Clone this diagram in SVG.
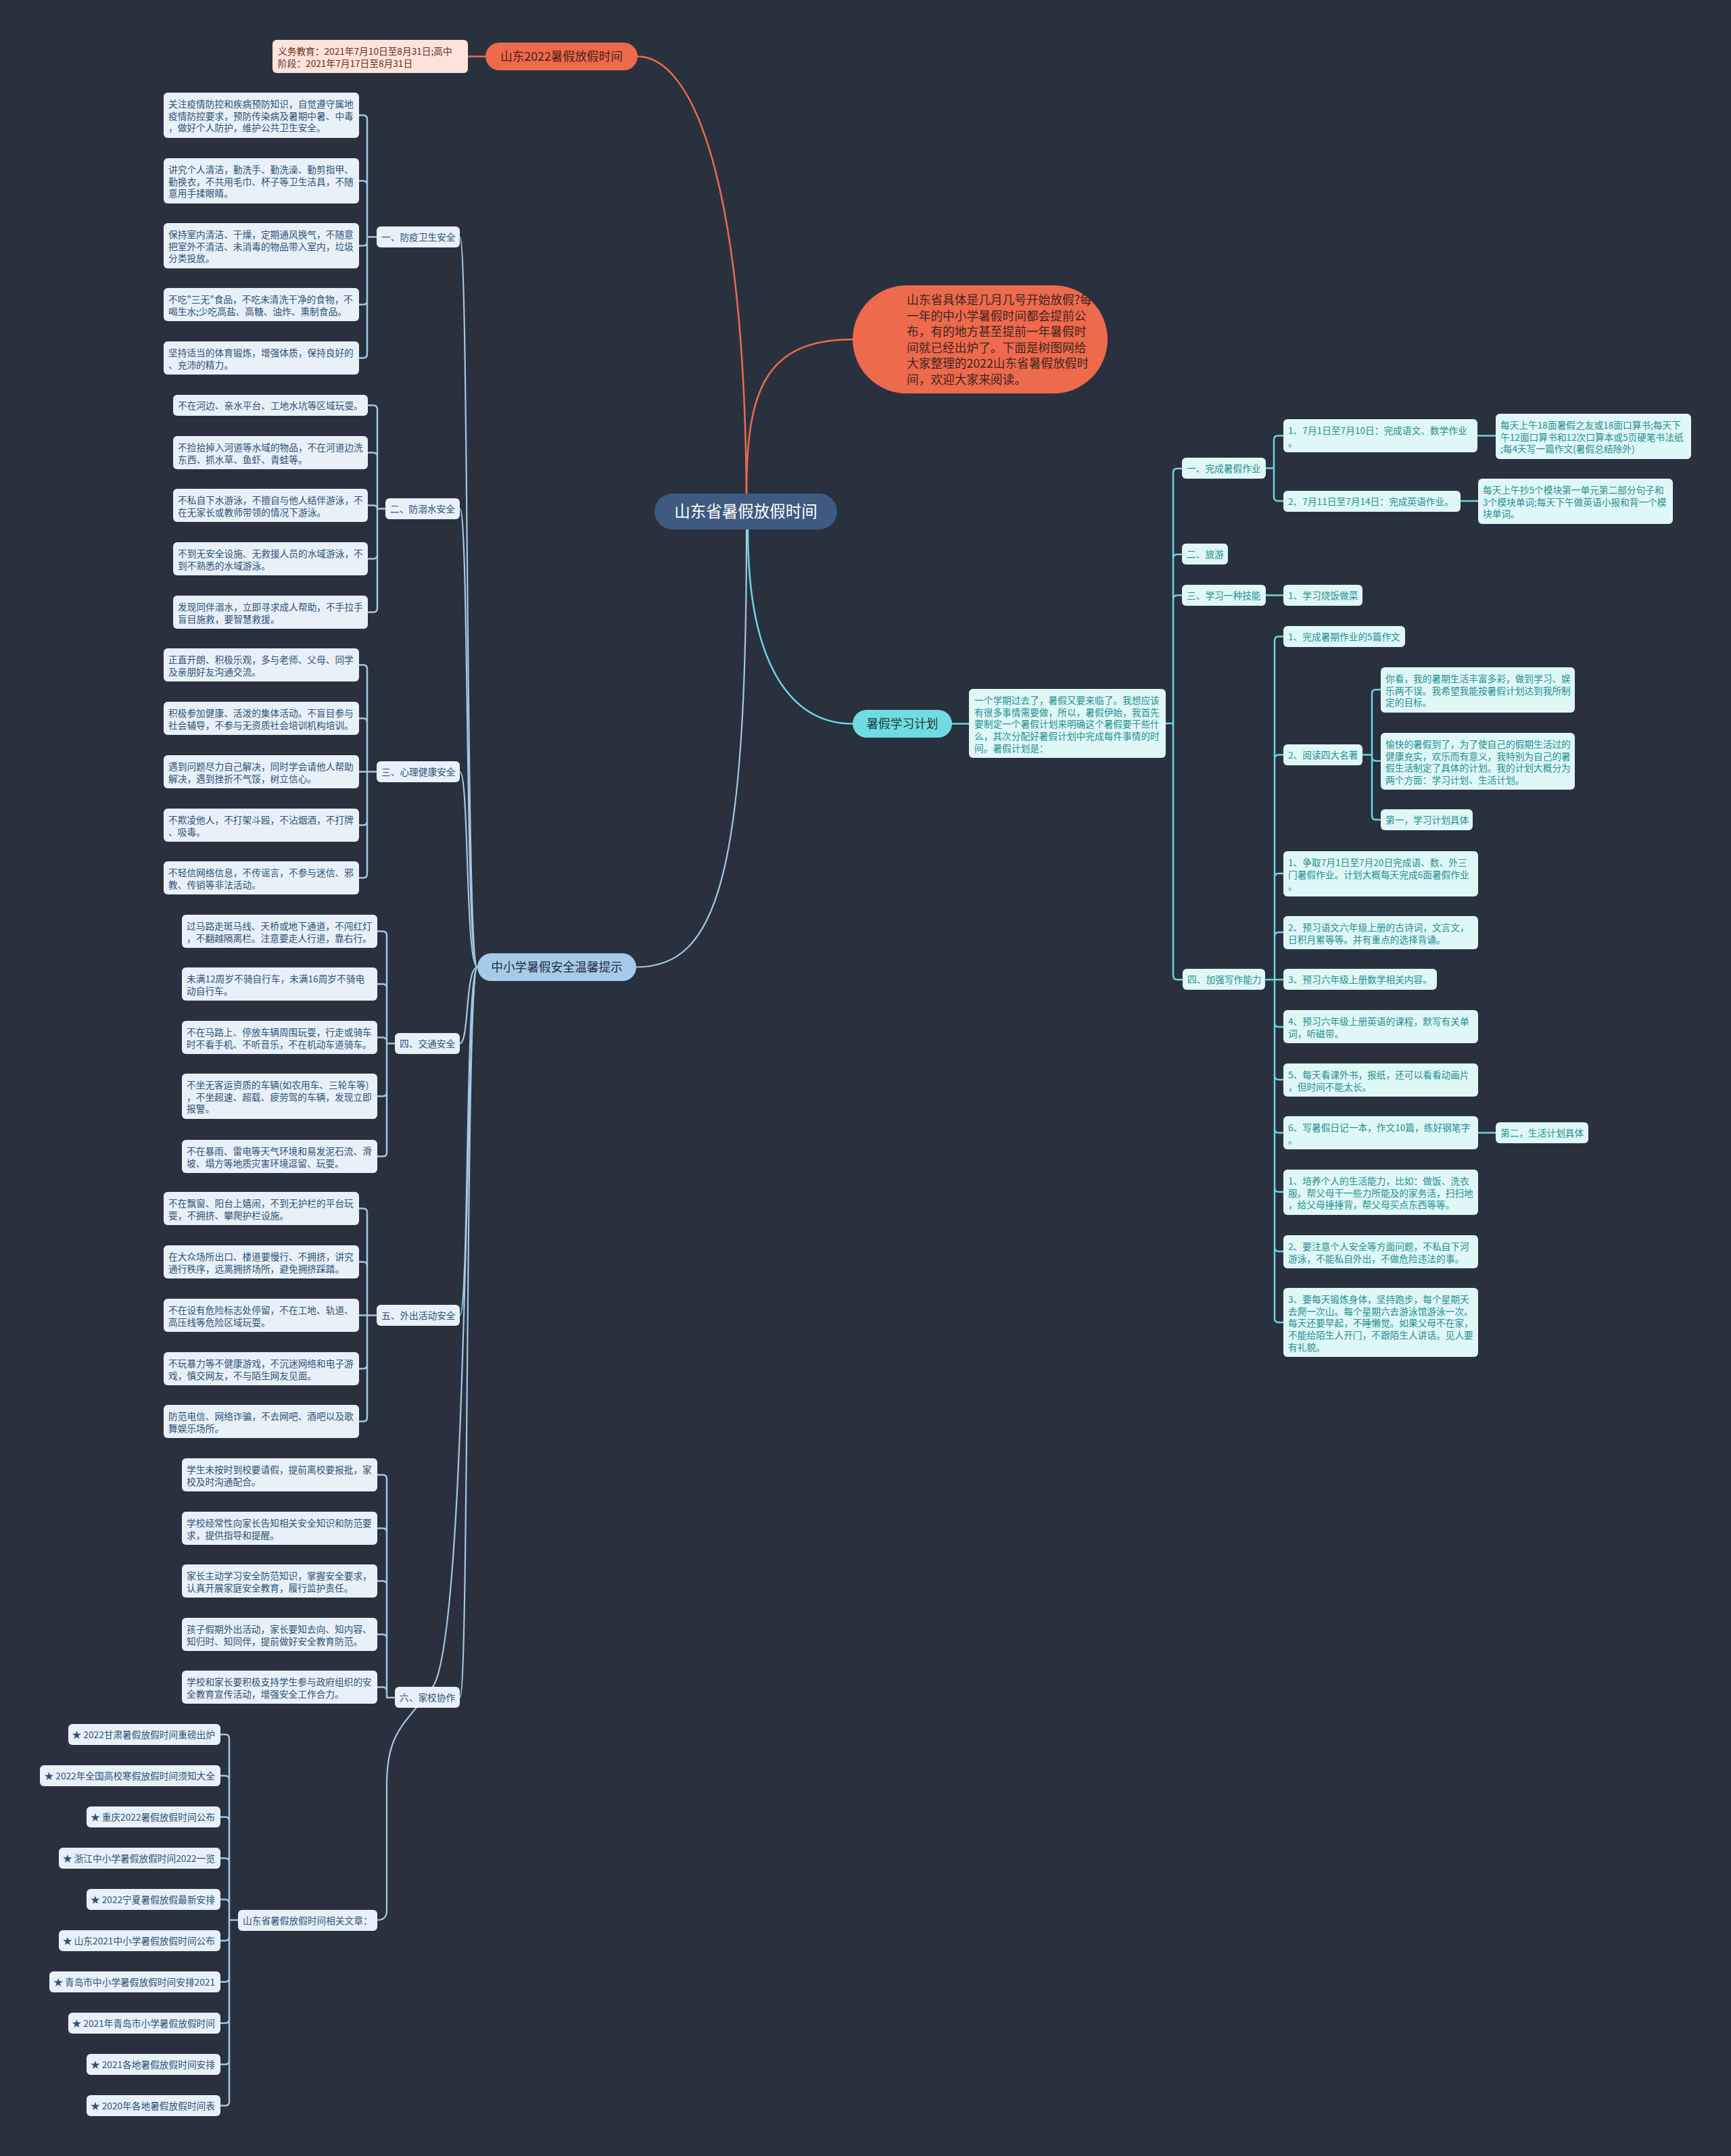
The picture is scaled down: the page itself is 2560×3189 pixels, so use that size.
<svg xmlns="http://www.w3.org/2000/svg" width="2560" height="3189" viewBox="0 0 2560 3189">
<defs>
<style>
text{font-family:"Noto Sans CJK SC","Noto Sans",sans-serif;}
.t{font-size:13.7px;}
.lb{fill:#e8f1f8;}
.lt{fill:#2e5277;}
.rb{fill:#e0f7f8;}
.rt{fill:#23908f;}
.cl{fill:none;stroke:#a4c7e5;stroke-width:2.5;stroke-linecap:round;}
.ct{fill:none;stroke:#a4c7e5;stroke-width:2.2;}
.cr{fill:none;stroke:#6dd6de;stroke-width:2.5;stroke-linecap:round;}
.co{fill:none;stroke:#ee6a4c;stroke-width:2.5;}
.l1{font-size:17.7px;}
</style>
</defs>
<rect x="0" y="0" width="2560" height="3189" fill="#29313e"/>

<g id="connectors">
<!-- root connectors -->
<path class="co" d="M1104,730 C1100,250 1020,83.5 943,83.5"/>
<path class="co" d="M692,83.5 H718"/>
<path class="co" d="M1104,730 C1104,580 1130,502 1261,502"/>
<path class="cr" d="M1106,783 C1106,1000 1180,1070.5 1261,1070.5"/>
<path class="cr" d="M1408,1070.5 H1433"/>
<path class="ct" d="M1104,783 C1104,1300 1060,1430.5 941,1430.5"/>
<!-- trunk to left level-2 -->
<path class="ct" d="M706,1430.5 C688,1430.5 694,350.5 680,350.5"/>
<path class="ct" d="M706,1430.5 C688,1430.5 694,752.5 680,752.5"/>
<path class="ct" d="M706,1430.5 C688,1430.5 694,1141.5 680,1141.5"/>
<path class="ct" d="M706,1430.5 C688,1430.5 694,1543.5 680,1543.5"/>
<path class="ct" d="M706,1430.5 C688,1430.5 694,1945.5 680,1945.5"/>
<path class="ct" d="M706,1430.5 C688,1430.5 694,2511 680,2511"/>
<path class="ct" d="M706,1430.5 C688,1430.5 694,2420 640,2495 C600,2550 572,2560 572,2640 V2826 Q572,2840 558,2840"/>
<!-- 防疫 -->
<path class="cl" d="M557,350.5 H543 M543,350.5 V176.5 Q543,170.5 537,170.5 H531 M543,350.5 V273.5 Q543,267.5 537,267.5 H531 M543,350.5 V357.5 Q543,363.5 537,363.5 H531 M543,350.5 V444.5 Q543,450.5 537,450.5 H531 M543,350.5 V523.5 Q543,529.5 537,529.5 H531"/>
<!-- 防溺水 -->
<path class="cl" d="M570,752.5 H558 M558,752.5 V605.5 Q558,599.5 552,599.5 H544 M558,752.5 V675.5 Q558,669.5 552,669.5 H544 M558,752.5 Q558,747.5 552,747.5 H544 M558,752.5 V820.5 Q558,826.5 552,826.5 H544 M558,752.5 V899.5 Q558,905.5 552,905.5 H544"/>
<!-- 心理 -->
<path class="cl" d="M557,1141.5 H531 M543,1141.5 V989.5 Q543,983.5 537,983.5 H531 M543,1141.5 V1068.5 Q543,1062.5 537,1062.5 H531 M543,1141.5 V1214.5 Q543,1220.5 537,1220.5 H531 M543,1141.5 V1292.5 Q543,1298.5 537,1298.5 H531"/>
<!-- 交通 -->
<path class="cl" d="M584,1543.5 H572 M572,1543.5 V1383.5 Q572,1377.5 566,1377.5 H558 M572,1543.5 V1461.5 Q572,1455.5 566,1455.5 H558 M572,1543.5 V1540.5 Q572,1534.5 566,1534.5 H558 M572,1543.5 V1615.5 Q572,1621.5 566,1621.5 H558 M572,1543.5 V1704.5 Q572,1710.5 566,1710.5 H558"/>
<!-- 外出 -->
<path class="cl" d="M557,1945.5 H531 M543,1945.5 V1793.5 Q543,1787.5 537,1787.5 H531 M543,1945.5 V1872.5 Q543,1866.5 537,1866.5 H531 M543,1945.5 V2018.5 Q543,2024.5 537,2024.5 H531 M543,1945.5 V2096.5 Q543,2102.5 537,2102.5 H531"/>
<!-- 家校 -->
<path class="cl" d="M584,2511 H572 M572,2511 V2187.5 Q572,2181.5 566,2181.5 H558 M572,2511 V2266.5 Q572,2260.5 566,2260.5 H558 M572,2511 V2344.5 Q572,2338.5 566,2338.5 H558 M572,2511 V2423.5 Q572,2417.5 566,2417.5 H558 M572,2511 V2501.5 Q572,2495.5 566,2495.5 H558"/>
<!-- 相关文章 -->
<path class="cl" d="M352,2840 H339 M339,2840 V2571.5 Q339,2565.5 333,2565.5 H326 M339,2840 V2632.5 Q339,2626.5 333,2626.5 H326 M339,2840 V2693.5 Q339,2687.5 333,2687.5 H326 M339,2840 V2754.5 Q339,2748.5 333,2748.5 H326 M339,2840 V2815.5 Q339,2809.5 333,2809.5 H326 M339,2840 V2864.5 Q339,2870.5 333,2870.5 H326 M339,2840 V2925.5 Q339,2931.5 333,2931.5 H326 M339,2840 V2986.5 Q339,2992.5 333,2992.5 H326 M339,2840 V3047.5 Q339,3053.5 333,3053.5 H326 M339,2840 V3108.5 Q339,3114.5 333,3114.5 H326"/>
<!-- right side -->
<path class="cr" d="M1724,1070 H1735 M1735,1070 V699 Q1735,693 1741,693 H1748 M1735,1070 V826 Q1735,820 1741,820 H1748 M1735,1070 V886.5 Q1735,880.5 1741,880.5 H1748 M1735,1070 V1443 Q1735,1449 1741,1449 H1749"/>
<path class="cr" d="M1872,692.5 H1884 M1884,692.5 V650.5 Q1884,644.5 1890,644.5 H1898 M1884,692.5 V735 Q1884,741 1890,741 H1898 M2185,644.5 H2212 M2160,741 H2186 M1872,880.5 H1898"/>
<path class="cr" d="M1871,1449 H1898 M1885,1449 V947.5 Q1885,941.5 1891,941.5 H1898 M1885,1449 V1122.5 Q1885,1116.5 1891,1116.5 H1898 M1885,1449 V1298 Q1885,1292 1891,1292 H1898 M1885,1449 V1385 Q1885,1379 1891,1379 H1898 M1885,1449 V1513 Q1885,1519 1891,1519 H1898 M1885,1449 V1591 Q1885,1597 1891,1597 H1898 M1885,1449 V1669.5 Q1885,1675.5 1891,1675.5 H1898 M1885,1449 V1757 Q1885,1763 1891,1763 H1898 M1885,1449 V1845 Q1885,1851 1891,1851 H1898 M1885,1449 V1950 Q1885,1956 1891,1956 H1898"/>
<path class="cr" d="M2015,1116.5 H2029 M2029,1116.5 V1026 Q2029,1020 2035,1020 H2042 M2029,1116.5 V1119.5 Q2029,1125.5 2035,1125.5 H2042 M2029,1116.5 V1206.5 Q2029,1212.5 2035,1212.5 H2042 M2186,1675.5 H2212"/>
</g>

<!-- root -->
<g id="root">
<rect x="968" y="730" width="270" height="53" rx="26.5" fill="#3e5a80"/>
<text x="1103" y="765" font-size="23.5" fill="#ffffff" text-anchor="middle">山东省暑假放假时间</text>
</g>

<!-- orange branch -->
<g id="n-sd2022">
<rect x="718" y="63" width="225" height="41" rx="20.5" fill="#ee6a4c"/>
<text class="l1" x="830.5" y="90" fill="#4a2016" text-anchor="middle">山东2022暑假放假时间</text>
</g>
<g id="n-sd2022-detail">
<rect x="403" y="59" width="289" height="49" rx="6" fill="#fde3dc"/>
<text class="t" x="411" y="81" fill="#6b2c20">义务教育：2021年7月10日至8月31日;高中<tspan x="411" dy="17.7">阶段：2021年7月17日至8月31日</tspan></text>
</g>
<g id="n-intro">
<rect x="1261" y="422" width="377" height="160" rx="80" fill="#ee6a4c"/>
<text class="l1" x="1341" y="450" fill="#3d2520">山东省具体是几月几号开始放假?每<tspan x="1341" dy="23.6">一年的中小学暑假时间都会提前公</tspan><tspan x="1341" dy="23.6">布，有的地方甚至提前一年暑假时</tspan><tspan x="1341" dy="23.6">间就已经出炉了。下面是树图网给</tspan><tspan x="1341" dy="23.6">大家整理的2022山东省暑假放假时</tspan><tspan x="1341" dy="23.6">间，欢迎大家来阅读。</tspan></text>
</g>

<!-- study plan branch -->
<g id="n-plan">
<rect x="1261" y="1050" width="147" height="41" rx="20.5" fill="#70dce1"/>
<text class="l1" x="1334.5" y="1077" fill="#1d3a3e" text-anchor="middle">暑假学习计划</text>
</g>
<g id="n-plan-desc">
<rect x="1433" y="1019" width="291" height="102" rx="6" class="rb"/>
<text class="t rt" x="1441" y="1041">一个学期过去了，暑假又要来临了。我想应该<tspan x="1441" dy="17.7">有很多事情需要做，所以，暑假伊始，我首先</tspan><tspan x="1441" dy="17.7">要制定一个暑假计划来明确这个暑假要干些什</tspan><tspan x="1441" dy="17.7">么，其次分配好暑假计划中完成每件事情的时</tspan><tspan x="1441" dy="17.7">间。暑假计划是：</tspan></text>
</g>
<g id="r1">
<rect x="1748" y="677" width="124" height="31" rx="6" class="rb"/>
<text class="t rt" x="1755" y="698">一、完成暑假作业</text>
</g>
<g id="r1-1">
<rect x="1898" y="620" width="287" height="49" rx="6" class="rb"/>
<text class="t rt" x="1905" y="642">1、7月1日至7月10日：完成语文、数学作业<tspan x="1905" dy="17.7">。</tspan></text>
</g>
<g id="r1-1-a">
<rect x="2212" y="612" width="289" height="67" rx="6" class="rb"/>
<text class="t rt" x="2219" y="634">每天上午18面暑假之友或18面口算书;每天下<tspan x="2219" dy="17.7">午12面口算书和12次口算本或5页硬笔书法纸</tspan><tspan x="2219" dy="17.7">;每4天写一篇作文(暑假总结除外)</tspan></text>
</g>
<g id="r1-2">
<rect x="1898" y="726" width="262" height="31" rx="6" class="rb"/>
<text class="t rt" x="1905" y="747">2、7月11日至7月14日：完成英语作业。</text>
</g>
<g id="r1-2-a">
<rect x="2186" y="708" width="288" height="67" rx="6" class="rb"/>
<text class="t rt" x="2193" y="730">每天上午抄5个模块第一单元第二部分句子和<tspan x="2193" dy="17.7">3个模块单词;每天下午做英语小报和背一个模</tspan><tspan x="2193" dy="17.7">块单词。</tspan></text>
</g>
<g id="r2">
<rect x="1748" y="804" width="68" height="31" rx="6" class="rb"/>
<text class="t rt" x="1755" y="825">二、旅游</text>
</g>
<g id="r3">
<rect x="1748" y="865" width="124" height="31" rx="6" class="rb"/>
<text class="t rt" x="1755" y="886">三、学习一种技能</text>
</g>
<g id="r3-1">
<rect x="1898" y="865" width="117" height="31" rx="6" class="rb"/>
<text class="t rt" x="1905" y="886">1、学习烧饭做菜</text>
</g>
<g id="r4">
<rect x="1749" y="1433" width="122" height="31" rx="6" class="rb"/>
<text class="t rt" x="1756" y="1454">四、加强写作能力</text>
</g>
<g id="r4-1">
<rect x="1898" y="926" width="180" height="31" rx="6" class="rb"/>
<text class="t rt" x="1905" y="947">1、完成暑期作业的5篇作文</text>
</g>
<g id="r4-2">
<rect x="1898" y="1101" width="117" height="31" rx="6" class="rb"/>
<text class="t rt" x="1905" y="1122">2、阅读四大名著</text>
</g>
<g id="r4-2-a">
<rect x="2042" y="987" width="287" height="67" rx="6" class="rb"/>
<text class="t rt" x="2049" y="1009">你看，我的暑期生活丰富多彩，做到学习、娱<tspan x="2049" dy="17.7">乐两不误。我希望我能按暑假计划达到我所制</tspan><tspan x="2049" dy="17.7">定的目标。</tspan></text>
</g>
<g id="r4-2-b">
<rect x="2042" y="1084" width="287" height="84" rx="6" class="rb"/>
<text class="t rt" x="2049" y="1106">愉快的暑假到了，为了使自己的假期生活过的<tspan x="2049" dy="17.7">健康充实，欢乐而有意义，我特别为自己的暑</tspan><tspan x="2049" dy="17.7">假生活制定了具体的计划。我的计划大概分为</tspan><tspan x="2049" dy="17.7">两个方面：学习计划、生活计划。</tspan></text>
</g>
<g id="r4-2-c">
<rect x="2042" y="1197" width="136" height="31" rx="6" class="rb"/>
<text class="t rt" x="2049" y="1218">第一，学习计划具体</text>
</g>
<g id="r4-3">
<rect x="1898" y="1259" width="288" height="67" rx="6" class="rb"/>
<text class="t rt" x="1905" y="1281">1、争取7月1日至7月20日完成语、数、外三<tspan x="1905" dy="17.7">门暑假作业。计划大概每天完成6面暑假作业</tspan><tspan x="1905" dy="17.7">。</tspan></text>
</g>
<g id="r4-4">
<rect x="1898" y="1355" width="288" height="49" rx="6" class="rb"/>
<text class="t rt" x="1905" y="1377">2、预习语文六年级上册的古诗词，文言文，<tspan x="1905" dy="17.7">日积月累等等。并有重点的选择背诵。</tspan></text>
</g>
<g id="r4-5">
<rect x="1898" y="1433" width="227" height="31" rx="6" class="rb"/>
<text class="t rt" x="1905" y="1454">3、预习六年级上册数学相关内容。</text>
</g>
<g id="r4-6">
<rect x="1898" y="1494" width="288" height="49" rx="6" class="rb"/>
<text class="t rt" x="1905" y="1516">4、预习六年级上册英语的课程，默写有关单<tspan x="1905" dy="17.7">词，听磁带。</tspan></text>
</g>
<g id="r4-7">
<rect x="1898" y="1573" width="288" height="49" rx="6" class="rb"/>
<text class="t rt" x="1905" y="1595">5、每天看课外书，报纸，还可以看看动画片<tspan x="1905" dy="17.7">，但时间不能太长。</tspan></text>
</g>
<g id="r4-8">
<rect x="1898" y="1651" width="288" height="49" rx="6" class="rb"/>
<text class="t rt" x="1905" y="1673">6、写暑假日记一本，作文10篇，练好钢笔字<tspan x="1905" dy="17.7">。</tspan></text>
</g>
<g id="r4-8-a">
<rect x="2212" y="1660" width="137" height="31" rx="6" class="rb"/>
<text class="t rt" x="2219" y="1681">第二，生活计划具体</text>
</g>
<g id="r4-9">
<rect x="1898" y="1730" width="288" height="67" rx="6" class="rb"/>
<text class="t rt" x="1905" y="1752">1、培养个人的生活能力，比如：做饭、洗衣<tspan x="1905" dy="17.7">服。帮父母干一些力所能及的家务活，扫扫地</tspan><tspan x="1905" dy="17.7">，给父母捶捶背，帮父母买点东西等等。</tspan></text>
</g>
<g id="r4-10">
<rect x="1898" y="1827" width="288" height="49" rx="6" class="rb"/>
<text class="t rt" x="1905" y="1849">2、要注意个人安全等方面问题，不私自下河<tspan x="1905" dy="17.7">游泳，不能私自外出，不做危险违法的事。</tspan></text>
</g>
<g id="r4-11">
<rect x="1898" y="1905" width="288" height="102" rx="6" class="rb"/>
<text class="t rt" x="1905" y="1927">3、要每天锻炼身体，坚持跑步，每个星期天<tspan x="1905" dy="17.7">去爬一次山。每个星期六去游泳馆游泳一次。</tspan><tspan x="1905" dy="17.7">每天还要早起，不睡懒觉。如果父母不在家，</tspan><tspan x="1905" dy="17.7">不能给陌生人开门，不跟陌生人讲话。见人要</tspan><tspan x="1905" dy="17.7">有礼貌。</tspan></text>
</g>

<!-- safety branch -->
<g id="n-safety">
<rect x="706" y="1410" width="235" height="41" rx="20.5" fill="#a6cbe9"/>
<text class="l1" x="823.5" y="1437" fill="#1f2c3c" text-anchor="middle">中小学暑假安全温馨提示</text>
</g>

<g id="s1">
<rect x="557" y="335" width="123" height="31" rx="6" class="lb"/>
<text class="t lt" x="564" y="356">一、防疫卫生安全</text>
</g>
<g id="s1-1"><rect x="242" y="137" width="289" height="67" rx="6" class="lb"/>
<text class="t lt" x="249" y="159">关注疫情防控和疾病预防知识，自觉遵守属地<tspan x="249" dy="17.7">疫情防控要求，预防传染病及暑期中暑、中毒</tspan><tspan x="249" dy="17.7">，做好个人防护，维护公共卫生安全。</tspan></text></g>
<g id="s1-2"><rect x="242" y="234" width="289" height="67" rx="6" class="lb"/>
<text class="t lt" x="249" y="256">讲究个人清洁，勤洗手、勤洗澡、勤剪指甲、<tspan x="249" dy="17.7">勤换衣，不共用毛巾、杯子等卫生洁具，不随</tspan><tspan x="249" dy="17.7">意用手揉眼睛。</tspan></text></g>
<g id="s1-3"><rect x="242" y="330" width="289" height="67" rx="6" class="lb"/>
<text class="t lt" x="249" y="352">保持室内清洁、干燥，定期通风换气，不随意<tspan x="249" dy="17.7">把室外不清洁、未消毒的物品带入室内，垃圾</tspan><tspan x="249" dy="17.7">分类投放。</tspan></text></g>
<g id="s1-4"><rect x="242" y="426" width="289" height="49" rx="6" class="lb"/>
<text class="t lt" x="249" y="448">不吃"三无"食品，不吃未清洗干净的食物，不<tspan x="249" dy="17.7">喝生水;少吃高盐、高糖、油炸、熏制食品。</tspan></text></g>
<g id="s1-5"><rect x="242" y="505" width="289" height="49" rx="6" class="lb"/>
<text class="t lt" x="249" y="527">坚持适当的体育锻炼，增强体质，保持良好的<tspan x="249" dy="17.7">、充沛的精力。</tspan></text></g>

<g id="s2">
<rect x="570" y="737" width="110" height="31" rx="6" class="lb"/>
<text class="t lt" x="577" y="758">二、防溺水安全</text>
</g>
<g id="s2-1"><rect x="256" y="584" width="288" height="31" rx="6" class="lb"/>
<text class="t lt" x="263" y="605">不在河边、亲水平台、工地水坑等区域玩耍。</text></g>
<g id="s2-2"><rect x="256" y="645" width="288" height="49" rx="6" class="lb"/>
<text class="t lt" x="263" y="667">不捡拾掉入河道等水域的物品，不在河道边洗<tspan x="263" dy="17.7">东西、抓水草、鱼虾、青蛙等。</tspan></text></g>
<g id="s2-3"><rect x="256" y="723" width="288" height="49" rx="6" class="lb"/>
<text class="t lt" x="263" y="745">不私自下水游泳，不擅自与他人结伴游泳，不<tspan x="263" dy="17.7">在无家长或教师带领的情况下游泳。</tspan></text></g>
<g id="s2-4"><rect x="256" y="802" width="288" height="49" rx="6" class="lb"/>
<text class="t lt" x="263" y="824">不到无安全设施、无救援人员的水域游泳，不<tspan x="263" dy="17.7">到不熟悉的水域游泳。</tspan></text></g>
<g id="s2-5"><rect x="256" y="881" width="288" height="49" rx="6" class="lb"/>
<text class="t lt" x="263" y="903">发现同伴溺水，立即寻求成人帮助，不手拉手<tspan x="263" dy="17.7">盲目施救，要智慧救援。</tspan></text></g>

<g id="s3">
<rect x="557" y="1126" width="123" height="31" rx="6" class="lb"/>
<text class="t lt" x="564" y="1147">三、心理健康安全</text>
</g>
<g id="s3-1"><rect x="242" y="959" width="289" height="49" rx="6" class="lb"/>
<text class="t lt" x="249" y="981">正直开朗、积极乐观，多与老师、父母、同学<tspan x="249" dy="17.7">及亲朋好友沟通交流。</tspan></text></g>
<g id="s3-2"><rect x="242" y="1038" width="289" height="49" rx="6" class="lb"/>
<text class="t lt" x="249" y="1060">积极参加健康、活泼的集体活动。不盲目参与<tspan x="249" dy="17.7">社会辅导，不参与无资质社会培训机构培训。</tspan></text></g>
<g id="s3-3"><rect x="242" y="1117" width="289" height="49" rx="6" class="lb"/>
<text class="t lt" x="249" y="1139">遇到问题尽力自己解决，同时学会请他人帮助<tspan x="249" dy="17.7">解决，遇到挫折不气馁，树立信心。</tspan></text></g>
<g id="s3-4"><rect x="242" y="1196" width="289" height="49" rx="6" class="lb"/>
<text class="t lt" x="249" y="1218">不欺凌他人，不打架斗殴，不沾烟酒，不打牌<tspan x="249" dy="17.7">、吸毒。</tspan></text></g>
<g id="s3-5"><rect x="242" y="1274" width="289" height="49" rx="6" class="lb"/>
<text class="t lt" x="249" y="1296">不轻信网络信息，不传谣言，不参与迷信、邪<tspan x="249" dy="17.7">教、传销等非法活动。</tspan></text></g>

<g id="s4">
<rect x="584" y="1528" width="96" height="31" rx="6" class="lb"/>
<text class="t lt" x="591" y="1549">四、交通安全</text>
</g>
<g id="s4-1"><rect x="269" y="1353" width="289" height="49" rx="6" class="lb"/>
<text class="t lt" x="276" y="1375">过马路走斑马线、天桥或地下通道，不闯红灯<tspan x="276" dy="17.7">，不翻越隔离栏。注意要走人行道，靠右行。</tspan></text></g>
<g id="s4-2"><rect x="269" y="1431" width="289" height="49" rx="6" class="lb"/>
<text class="t lt" x="276" y="1453">未满12周岁不骑自行车，未满16周岁不骑电<tspan x="276" dy="17.7">动自行车。</tspan></text></g>
<g id="s4-3"><rect x="269" y="1510" width="289" height="49" rx="6" class="lb"/>
<text class="t lt" x="276" y="1532">不在马路上、停放车辆周围玩耍，行走或骑车<tspan x="276" dy="17.7">时不看手机、不听音乐，不在机动车道骑车。</tspan></text></g>
<g id="s4-4"><rect x="269" y="1588" width="289" height="67" rx="6" class="lb"/>
<text class="t lt" x="276" y="1610">不坐无客运资质的车辆(如农用车、三轮车等)<tspan x="276" dy="17.7">，不坐超速、超载、疲劳驾的车辆，发现立即</tspan><tspan x="276" dy="17.7">报警。</tspan></text></g>
<g id="s4-5"><rect x="269" y="1686" width="289" height="49" rx="6" class="lb"/>
<text class="t lt" x="276" y="1708">不在暴雨、雷电等天气环境和易发泥石流、滑<tspan x="276" dy="17.7">坡、塌方等地质灾害环境逗留、玩耍。</tspan></text></g>

<g id="s5">
<rect x="557" y="1930" width="123" height="31" rx="6" class="lb"/>
<text class="t lt" x="564" y="1951">五、外出活动安全</text>
</g>
<g id="s5-1"><rect x="242" y="1763" width="289" height="49" rx="6" class="lb"/>
<text class="t lt" x="249" y="1785">不在飘窗、阳台上嬉闹，不到无护栏的平台玩<tspan x="249" dy="17.7">耍，不拥挤、攀爬护栏设施。</tspan></text></g>
<g id="s5-2"><rect x="242" y="1842" width="289" height="49" rx="6" class="lb"/>
<text class="t lt" x="249" y="1864">在大众场所出口、楼道要慢行、不拥挤，讲究<tspan x="249" dy="17.7">通行秩序，远离拥挤场所，避免拥挤踩踏。</tspan></text></g>
<g id="s5-3"><rect x="242" y="1921" width="289" height="49" rx="6" class="lb"/>
<text class="t lt" x="249" y="1943">不在设有危险标志处停留，不在工地、轨道、<tspan x="249" dy="17.7">高压线等危险区域玩耍。</tspan></text></g>
<g id="s5-4"><rect x="242" y="2000" width="289" height="49" rx="6" class="lb"/>
<text class="t lt" x="249" y="2022">不玩暴力等不健康游戏，不沉迷网络和电子游<tspan x="249" dy="17.7">戏，慎交网友，不与陌生网友见面。</tspan></text></g>
<g id="s5-5"><rect x="242" y="2078" width="289" height="49" rx="6" class="lb"/>
<text class="t lt" x="249" y="2100">防范电信、网络诈骗，不去网吧、酒吧以及歌<tspan x="249" dy="17.7">舞娱乐场所。</tspan></text></g>

<g id="s6">
<rect x="584" y="2495" width="96" height="31" rx="6" class="lb"/>
<text class="t lt" x="591" y="2516">六、家校协作</text>
</g>
<g id="s6-1"><rect x="269" y="2157" width="289" height="49" rx="6" class="lb"/>
<text class="t lt" x="276" y="2179">学生未按时到校要请假，提前离校要报批，家<tspan x="276" dy="17.7">校及时沟通配合。</tspan></text></g>
<g id="s6-2"><rect x="269" y="2236" width="289" height="49" rx="6" class="lb"/>
<text class="t lt" x="276" y="2258">学校经常性向家长告知相关安全知识和防范要<tspan x="276" dy="17.7">求，提供指导和提醒。</tspan></text></g>
<g id="s6-3"><rect x="269" y="2314" width="289" height="49" rx="6" class="lb"/>
<text class="t lt" x="276" y="2336">家长主动学习安全防范知识，掌握安全要求，<tspan x="276" dy="17.7">认真开展家庭安全教育，履行监护责任。</tspan></text></g>
<g id="s6-4"><rect x="269" y="2393" width="289" height="49" rx="6" class="lb"/>
<text class="t lt" x="276" y="2415">孩子假期外出活动，家长要知去向、知内容、<tspan x="276" dy="17.7">知归时、知同伴，提前做好安全教育防范。</tspan></text></g>
<g id="s6-5"><rect x="269" y="2471" width="289" height="49" rx="6" class="lb"/>
<text class="t lt" x="276" y="2493">学校和家长要积极支持学生参与政府组织的安<tspan x="276" dy="17.7">全教育宣传活动，增强安全工作合力。</tspan></text></g>

<g id="s7">
<rect x="352" y="2825" width="206" height="31" rx="6" class="lb"/>
<text class="t lt" x="359" y="2846">山东省暑假放假时间相关文章：</text>
</g>
<g id="a1"><rect x="101" y="2550" width="225" height="31" rx="6" class="lb"/><text class="t lt" x="318" y="2571" text-anchor="end">★ 2022甘肃暑假放假时间重磅出炉</text></g>
<g id="a2"><rect x="59" y="2611" width="267" height="31" rx="6" class="lb"/><text class="t lt" x="318" y="2632" text-anchor="end">★ 2022年全国高校寒假放假时间须知大全</text></g>
<g id="a3"><rect x="128" y="2672" width="198" height="31" rx="6" class="lb"/><text class="t lt" x="318" y="2693" text-anchor="end">★ 重庆2022暑假放假时间公布</text></g>
<g id="a4"><rect x="87" y="2733" width="239" height="31" rx="6" class="lb"/><text class="t lt" x="318" y="2754" text-anchor="end">★ 浙江中小学暑假放假时间2022一览</text></g>
<g id="a5"><rect x="128" y="2794" width="198" height="31" rx="6" class="lb"/><text class="t lt" x="318" y="2815" text-anchor="end">★ 2022宁夏暑假放假最新安排</text></g>
<g id="a6"><rect x="87" y="2855" width="239" height="31" rx="6" class="lb"/><text class="t lt" x="318" y="2876" text-anchor="end">★ 山东2021中小学暑假放假时间公布</text></g>
<g id="a7"><rect x="73" y="2916" width="253" height="31" rx="6" class="lb"/><text class="t lt" x="318" y="2937" text-anchor="end">★ 青岛市中小学暑假放假时间安排2021</text></g>
<g id="a8"><rect x="101" y="2977" width="225" height="31" rx="6" class="lb"/><text class="t lt" x="318" y="2998" text-anchor="end">★ 2021年青岛市小学暑假放假时间</text></g>
<g id="a9"><rect x="128" y="3038" width="198" height="31" rx="6" class="lb"/><text class="t lt" x="318" y="3059" text-anchor="end">★ 2021各地暑假放假时间安排</text></g>
<g id="a10"><rect x="128" y="3099" width="198" height="31" rx="6" class="lb"/><text class="t lt" x="318" y="3120" text-anchor="end">★ 2020年各地暑假放假时间表</text></g>
</svg>
